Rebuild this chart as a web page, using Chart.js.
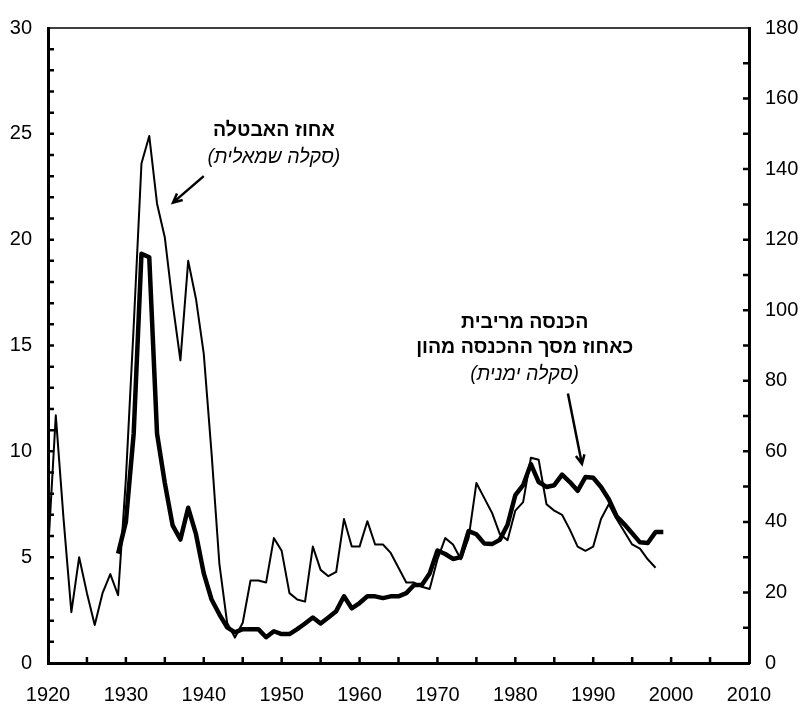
<!DOCTYPE html>
<html lang="he">

<head>
  <meta charset="UTF-8">
  <title>אבטלה והכנסה מריבית</title>
  <style>
    body { margin: 0; background: #fff; }
  </style>
</head>

<body>
  <canvas id="grafico" width="803" height="705"></canvas>

  <script src="https://cdn.jsdelivr.net/npm/chart.js"></script>

  <script>
    // unemployment rate, left scale
    const anosAbt = [1920,1921,1922,1923,1924,1925,1926,1927,1928,1929,
      1930,1931,1932,1933,1934,1935,1936,1937,1938,1939,
      1940,1941,1942,1943,1944,1945,1946,1947,1948,1949,
      1950,1951,1952,1953,1954,1955,1956,1957,1958,1959,
      1960,1961,1962,1963,1964,1965,1966,1967,1968,1969,
      1970,1971,1972,1973,1974,1975,1976,1977,1978,1979,
      1980,1981,1982,1983,1984,1985,1986,1987,1988,1989,
      1990,1991,1992,1993,1994,1995,1996,1997,1998]
    const avtala = [5.2,11.7,6.8,2.4,5.0,3.3,1.8,3.3,4.2,3.2,
      8.7,15.9,23.6,24.9,21.7,20.1,17.0,14.3,19.0,17.2,
      14.6,9.9,4.7,1.9,1.2,1.9,3.9,3.9,3.8,5.9,
      5.3,3.3,3.0,2.9,5.5,4.4,4.1,4.3,6.8,5.5,
      5.5,6.7,5.6,5.6,5.2,4.5,3.8,3.8,3.6,3.5,
      4.9,5.9,5.6,4.9,5.9,8.5,7.8,7.1,6.1,5.8,
      7.2,7.6,9.7,9.6,7.5,7.2,7.0,6.3,5.5,5.3,
      5.5,6.8,7.5,6.8,6.2,5.6,5.4,4.9,4.5]

    // interest income as % of capital income, right scale
    const anosRibit = [1929,
      1930,1931,1932,1933,1934,1935,1936,1937,1938,1939,
      1940,1941,1942,1943,1944,1945,1946,1947,1948,1949,
      1950,1951,1952,1953,1954,1955,1956,1957,1958,1959,
      1960,1961,1962,1963,1964,1965,1966,1967,1968,1969,
      1970,1971,1972,1973,1974,1975,1976,1977,1978,1979,
      1980,1981,1982,1983,1984,1985,1986,1987,1988,1989,
      1990,1991,1992,1993,1994,1995,1996,1997,1998,1999]
    const ribit = [31,
      40,65,116,115,65,51,39,35,44,36.5,
      25.4,18,13.8,10.1,8.7,9.6,9.6,9.6,7.3,9.0,
      8.2,8.2,9.6,11.2,12.9,11.2,12.9,14.7,18.9,15.5,
      17.0,18.9,18.9,18.4,18.9,18.9,19.8,22.1,22.1,25.4,
      31.9,30.9,29.5,30.0,37.4,36.5,33.9,33.7,34.9,39.2,
      47.6,50.4,56.4,51.3,49.9,50.4,53.4,51.3,48.8,52.7,
      52.5,49.9,46.4,41.6,39.3,36.8,34.2,34.0,37.1,37.1]

    const ticksX = [1920,1930,1940,1950,1960,1970,1980,1990,2000,2010]
    const ticksEsq = [0,5,10,15,20,25,30]
    const ticksDir = [0,20,40,60,80,100,120,140,160,180]

    const fonte = "'Liberation Sans', Arial, sans-serif"

    // small inner tick marks + top border
    const marcas = {
      id: 'marcas',
      afterDraw(chart) {
        const c = chart.ctx
        const a = chart.chartArea
        const sx = chart.scales.x, sy = chart.scales.y, sy2 = chart.scales.y2
        c.save()
        c.strokeStyle = '#000'
        c.lineWidth = 2.5
        c.beginPath()
        for (let v = 1; v < ticksEsq[ticksEsq.length - 1]; v++) {
          const y = sy.getPixelForValue(v)
          c.moveTo(a.left, y); c.lineTo(a.left + 6, y)
        }
        for (let v = 10; v < ticksDir[ticksDir.length - 1]; v += 10) {
          const y = sy2.getPixelForValue(v)
          c.moveTo(a.right, y); c.lineTo(a.right - 6, y)
        }
        for (let v = ticksX[0] + 5; v < ticksX[ticksX.length - 1]; v += 5) {
          const x = sx.getPixelForValue(v)
          c.moveTo(x, a.bottom); c.lineTo(x, a.bottom - 6)
        }
        c.stroke()
        c.lineWidth = 1.5
        c.beginPath()
        c.moveTo(a.left, a.top); c.lineTo(a.right, a.top)
        c.stroke()
        c.restore()
      }
    }

    let seta = (c, x1, y1, x2, y2) => {
      const ang = Math.atan2(y2 - y1, x2 - x1)
      c.beginPath()
      c.moveTo(x1, y1); c.lineTo(x2, y2)
      c.moveTo(x2 - 10 * Math.cos(ang - 0.45), y2 - 10 * Math.sin(ang - 0.45))
      c.lineTo(x2, y2)
      c.lineTo(x2 - 10 * Math.cos(ang + 0.45), y2 - 10 * Math.sin(ang + 0.45))
      c.stroke()
    }

    const notas = {
      id: 'notas',
      afterDatasetsDraw(chart) {
        const c = chart.ctx
        const sx = chart.scales.x, sy = chart.scales.y, sy2 = chart.scales.y2
        c.save()
        c.fillStyle = '#000'
        c.strokeStyle = '#000'
        c.direction = 'rtl'
        c.textAlign = 'center'
        c.textBaseline = 'middle'

        c.font = 'bold 19.5px ' + fonte
        c.fillText('אחוז האבטלה', sx.getPixelForValue(1949), sy.getPixelForValue(25.15))
        c.font = 'italic 19.5px ' + fonte
        c.fillText('(סקלה שמאלית)', sx.getPixelForValue(1949), sy.getPixelForValue(23.9))

        c.font = 'bold 19.5px ' + fonte
        c.fillText('הכנסה מריבית', sx.getPixelForValue(1981.2), sy2.getPixelForValue(96.4))
        c.fillText('כאחוז מסך ההכנסה מהון', sx.getPixelForValue(1981.2), sy2.getPixelForValue(89.4))
        c.font = 'italic 19.5px ' + fonte
        c.fillText('(סקלה ימנית)', sx.getPixelForValue(1981.2), sy2.getPixelForValue(81.8))

        c.lineWidth = 2.5
        seta(c, sx.getPixelForValue(1940), sy.getPixelForValue(23.0),
          sx.getPixelForValue(1936.05), sy.getPixelForValue(21.75))
        seta(c, sx.getPixelForValue(1986.75), sy2.getPixelForValue(76.4),
          sx.getPixelForValue(1988.55), sy2.getPixelForValue(56.4))
        c.restore()
      }
    }

    const ctx = document.getElementById('grafico')

    let grafico = new Chart(ctx, {
      type: 'line',
      data: {
        datasets: [{
          label: 'אחוז האבטלה',
          data: anosAbt.map((a, i) => ({ x: a, y: avtala[i] })),
          yAxisID: 'y',
          borderColor: '#000',
          borderWidth: 2,
          borderJoinStyle: 'round',
          pointRadius: 0,
          tension: 0
        }, {
          label: 'הכנסה מריבית',
          data: anosRibit.map((a, i) => ({ x: a, y: ribit[i] })),
          yAxisID: 'y2',
          borderColor: '#000',
          borderWidth: 4.5,
          borderJoinStyle: 'round',
          pointRadius: 0,
          tension: 0
        }]
      },
      options: {
        responsive: false,
        animation: false,
        layout: { padding: { top: 15 } },
        plugins: {
          legend: { display: false },
          tooltip: { enabled: false }
        },
        scales: {
          x: {
            type: 'linear',
            min: ticksX[0],
            max: ticksX[ticksX.length - 1],
            afterBuildTicks: s => { s.ticks = ticksX.map(v => ({ value: v })) },
            afterFit: s => { s.height = 42 },
            grid: { display: false, drawTicks: false },
            border: { display: true, width: 3, color: '#000' },
            ticks: { color: '#000', font: { family: fonte, size: 20 }, padding: 20, maxRotation: 0,
              callback: v => String(v) }
          },
          y: {
            position: 'left',
            min: 0,
            max: 30,
            afterBuildTicks: s => { s.ticks = ticksEsq.map(v => ({ value: v })) },
            afterFit: s => { s.width = 48 },
            grid: { display: false, drawTicks: false },
            border: { display: true, width: 3, color: '#000' },
            ticks: { color: '#000', font: { family: fonte, size: 20 }, padding: 16 }
          },
          y2: {
            position: 'right',
            min: 0,
            max: 180,
            afterBuildTicks: s => { s.ticks = ticksDir.map(v => ({ value: v })) },
            afterFit: s => { s.width = 54 },
            grid: { display: false, drawTicks: false },
            border: { display: true, width: 3, color: '#000' },
            ticks: { color: '#000', font: { family: fonte, size: 20 }, padding: 16 }
          }
        }
      },
      plugins: [marcas, notas]
    })
  </script>
</body>

</html>
